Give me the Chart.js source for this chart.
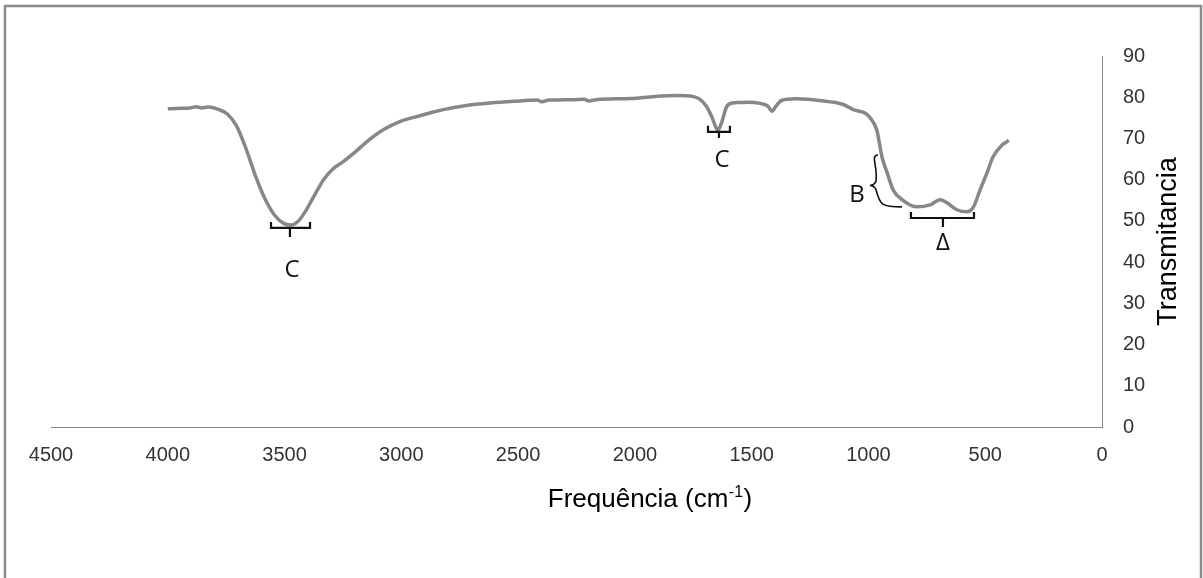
<!DOCTYPE html>
<html>
<head>
<meta charset="utf-8">
<script src="https://cdn.jsdelivr.net/npm/chart.js@4/dist/chart.umd.min.js"></script>
<style>
  html, body { margin: 0; padding: 0; background: #fff; }
  #wrap { position: relative; width: 1203px; height: 578px; }
</style>
</head>
<body>
<div id="wrap"><canvas id="c" width="1203" height="578"></canvas></div>
<script>
// wavenumber (cm-1) and transmittance
const freq = [4000, 3947, 3906, 3876, 3856, 3826, 3786, 3746, 3705, 3665, 3625, 3585, 3544, 3504, 3474,
  3444, 3414, 3374, 3333, 3293, 3253, 3202, 3142, 3072, 3001, 2921, 2871, 2820, 2720, 2619, 2519,
  2418, 2398, 2368, 2267, 2217, 2197, 2167, 2016, 1915, 1815, 1754, 1724, 1694, 1669, 1654, 1644,
  1629, 1608, 1583, 1553, 1513, 1463, 1432, 1412, 1397, 1372, 1312, 1261, 1211, 1111, 1065, 1010,
  993, 964, 942, 920, 894, 852, 792, 736, 693, 664, 621, 578, 552, 522, 492, 467, 428, 407, 400];
const trans = [77.2, 77.3, 77.4, 77.7, 77.4, 77.6, 77.1, 76.0, 73.0, 67.5, 61.0, 55.5, 51.5, 49.4, 49.0,
  49.8, 52.0, 56.0, 60.0, 62.6, 64.2, 66.5, 69.5, 72.3, 74.2, 75.5, 76.3, 77.0, 78.0, 78.6, 79.0,
  79.3, 78.9, 79.3, 79.4, 79.5, 79.1, 79.4, 79.7, 80.2, 80.4, 80.2, 79.6, 77.8, 75.0, 72.8, 72.0,
  73.8, 77.6, 78.6, 78.7, 78.8, 78.5, 77.9, 76.6, 77.8, 79.2, 79.6, 79.5, 79.2, 78.3, 77.0, 76.0,
  75.0, 72.0, 65.5, 61.7, 57.5, 55.0, 53.4, 53.9, 55.1, 54.4, 52.7, 52.2, 53.2, 57.5, 61.7, 65.5,
  68.4, 69.2, 69.6];

const xTicks = [4500, 4000, 3500, 3000, 2500, 2000, 1500, 1000, 500, 0];
const yTicks = [0, 10, 20, 30, 40, 50, 60, 70, 80, 90];

// band marks: horizontal brackets [from, to, level, centre, tickEnd], label positions
const brackets = [
  [3558, 3391, 48.3, 3477, 46.1],
  [1687, 1593, 71.6, 1640, 70.1],
  [818, 548, 50.7, 681, 48.5]
];
const labels = [
  ['C', 3468, 38.1],
  ['C', 1627, 64.8],
  ['B', 1049, 56.3],
  ['\u0394', 681, 44.6]
];
// curly brace for B: top, tip, bottom
const brace = [[959, 66.0], [985, 58.6], [856, 53.4]];

const xTitle = 'Frequência (cm';
const yTitle = 'Transmitancia';

const extras = {
  id: 'extras',
  afterDraw(chart) {
    const ctx = chart.ctx;
    const xs = chart.scales.x, ys = chart.scales.y;
    const ca = chart.chartArea;
    ctx.save();
    // outer frame
    ctx.strokeStyle = '#8c8c8c';
    ctx.lineWidth = 2.5;
    ctx.beginPath();
    ctx.moveTo(5, 578); ctx.lineTo(5, 6); ctx.lineTo(1201, 6); ctx.lineTo(1201, 578);
    ctx.stroke();

    // brackets
    ctx.strokeStyle = '#111';
    ctx.lineWidth = 2.2;
    brackets.forEach(b => {
      const x1 = xs.getPixelForValue(b[0]), x2 = xs.getPixelForValue(b[1]);
      const y = ys.getPixelForValue(b[2]), xc = xs.getPixelForValue(b[3]);
      const yt = ys.getPixelForValue(b[4]);
      ctx.beginPath();
      ctx.moveTo(x1, y - 6); ctx.lineTo(x1, y); ctx.lineTo(x2, y); ctx.lineTo(x2, y - 6);
      ctx.moveTo(xc, y); ctx.lineTo(xc, yt);
      ctx.stroke();
    });

    // brace
    const p = brace.map(q => [xs.getPixelForValue(q[0]), ys.getPixelForValue(q[1])]);
    ctx.lineWidth = 1.6;
    ctx.beginPath();
    ctx.moveTo(p[0][0], p[0][1]);
    ctx.bezierCurveTo(p[0][0] - 8, p[0][1], p[1][0] + 6, p[1][1] - 20, p[1][0] + 4, p[1][1] - 4);
    ctx.quadraticCurveTo(p[1][0] + 2, p[1][1], p[1][0] - 2, p[1][1]);
    ctx.quadraticCurveTo(p[1][0] + 2, p[1][1], p[1][0] + 4, p[1][1] + 4);
    ctx.bezierCurveTo(p[1][0] + 8, p[1][1] + 20, p[2][0] - 20, p[2][1], p[2][0], p[2][1]);
    ctx.stroke();

    // band labels
    ctx.fillStyle = '#111';
    ctx.font = '24px "Open Sans"';
    ctx.textAlign = 'center';
    ctx.textBaseline = 'middle';
    labels.forEach(l => ctx.fillText(l[0], xs.getPixelForValue(l[1]), ys.getPixelForValue(l[2])));

    // x title with superscript
    ctx.fillStyle = '#000';
    ctx.textAlign = 'left';
    ctx.textBaseline = 'alphabetic';
    const big = '26px "Liberation Sans"', small = '16px "Liberation Sans"';
    ctx.font = big;
    const w1 = ctx.measureText(xTitle).width;
    const w3 = ctx.measureText(')').width;
    ctx.font = small;
    const w2 = ctx.measureText('-1').width;
    const x0 = 650 - (w1 + w2 + 1 + w3) / 2;
    const base = 507;
    ctx.font = big;
    ctx.fillText(xTitle, x0, base);
    ctx.font = small;
    ctx.fillText('-1', x0 + w1 + 0.5, base - 10);
    ctx.font = big;
    ctx.fillText(')', x0 + w1 + w2 + 1, base);

    // y title reading bottom to top
    ctx.translate(1168, (ca.top + ca.bottom) / 2);
    ctx.rotate(-Math.PI / 2);
    ctx.textAlign = 'center';
    ctx.textBaseline = 'middle';
    ctx.font = '27px "Liberation Sans"';
    ctx.fillText(yTitle, 0, 1);
    ctx.restore();
  }
};

new Chart(document.getElementById('c'), {
  type: 'line',
  data: {
    datasets: [{
      data: freq.map((f, i) => ({ x: f, y: trans[i] })),
      borderColor: '#878787',
      borderWidth: 3.5,
      pointRadius: 0,
      cubicInterpolationMode: 'monotone',
      fill: false
    }]
  },
  options: {
    responsive: false,
    animation: false,
    events: [],
    layout: { padding: { left: 51, top: 56, right: 0, bottom: 0 } },
    plugins: { legend: { display: false }, tooltip: { enabled: false } },
    scales: {
      x: {
        type: 'linear',
        min: 0, max: 4500,
        reverse: true,
        afterFit: s => { s.height = 151; },
        afterBuildTicks: s => { s.ticks = xTicks.map(v => ({ value: v })); },
        grid: { display: false, drawTicks: false },
        border: { display: true, color: '#888', width: 1 },
        ticks: { color: '#333', font: { family: 'Liberation Sans', size: 20 }, padding: 16, maxRotation: 0,
          callback: v => String(v) }
      },
      y: {
        position: 'right',
        min: 0, max: 90,
        afterFit: s => { s.width = 101; },
        afterBuildTicks: s => { s.ticks = yTicks.map(v => ({ value: v })); },
        grid: { display: false, drawTicks: false },
        border: { display: true, color: '#888', width: 1 },
        ticks: { color: '#333', font: { family: 'Liberation Sans', size: 20 }, padding: 21,
          callback: v => String(v) }
      }
    }
  },
  plugins: [extras]
});
</script>
</body>
</html>
